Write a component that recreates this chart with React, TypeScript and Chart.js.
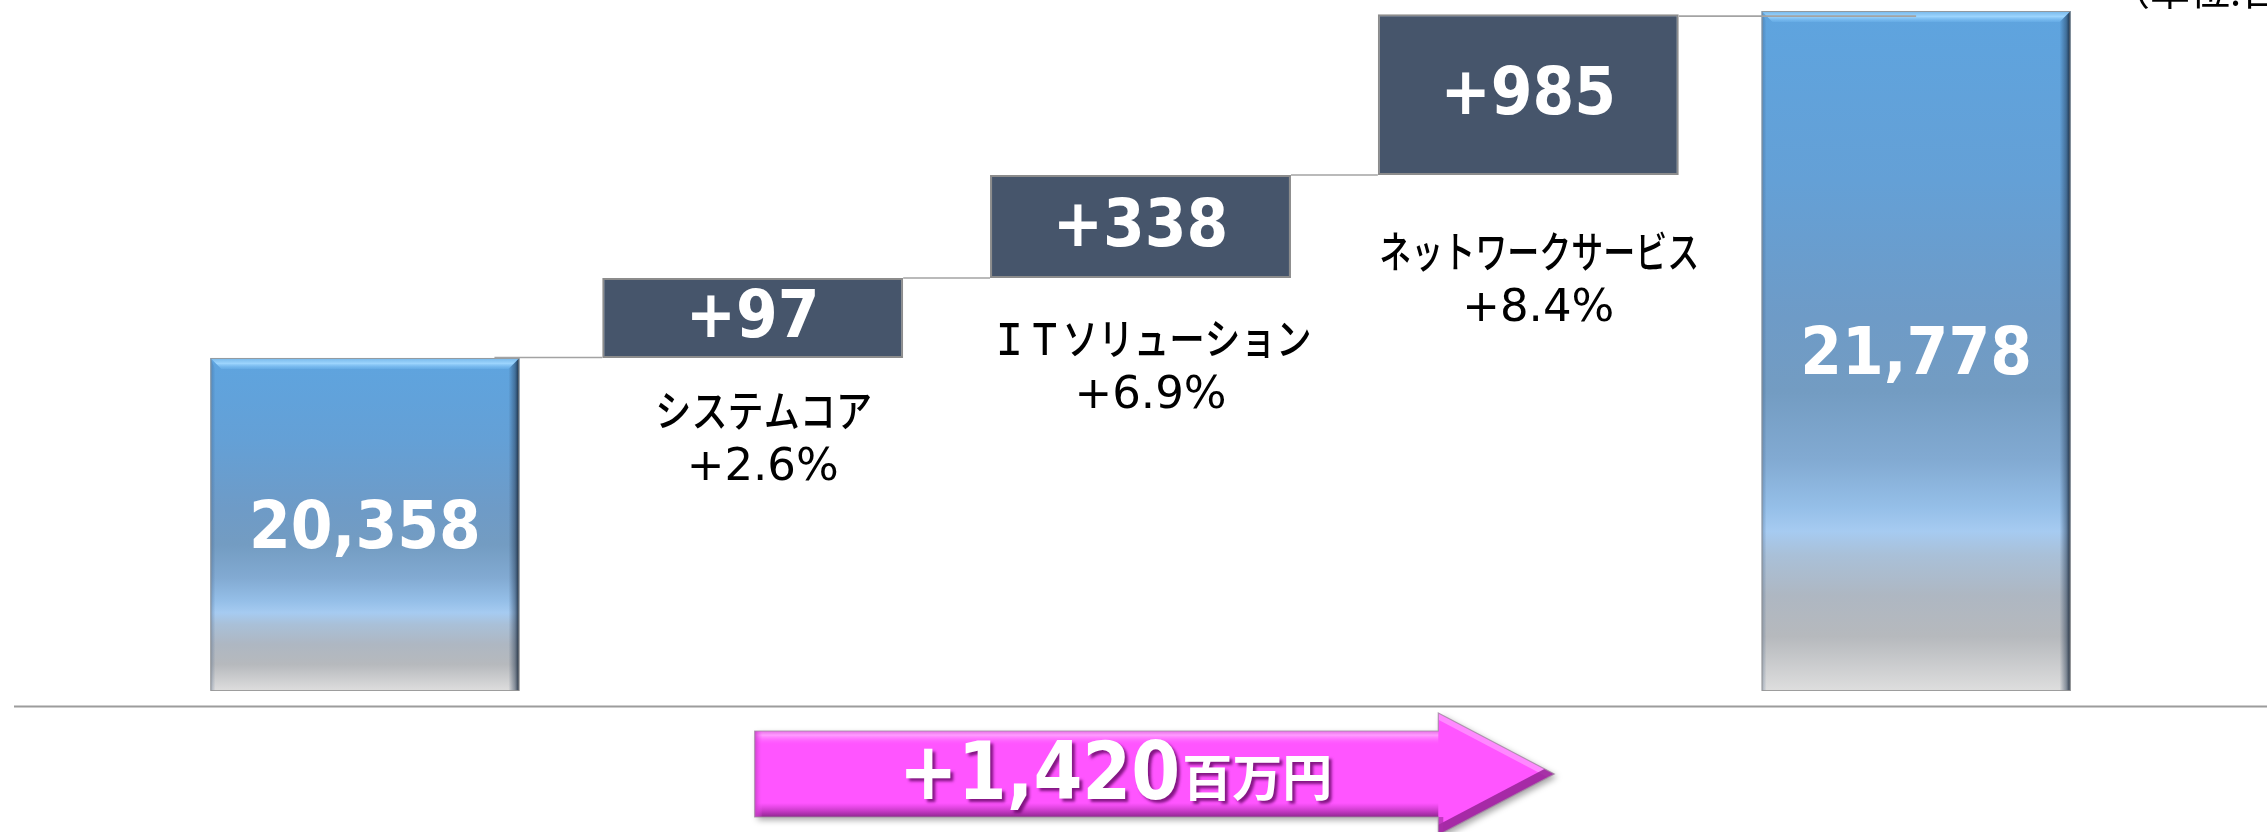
import React, { useEffect, useRef } from 'react';
import { Chart, registerables } from 'chart.js';

Chart.register(...registerables);

// ---- data (百万円) ----
const categories = ['前期', 'システムコア', 'ＩＴソリューション', 'ネットワークサービス', '当期'];
const totalValues = [20358, 21778];
const totalLabels = ['20,358', '21,778'];
const deltaValues = [97, 338, 985];
const deltaLabels = ['+97', '+338', '+985'];
const deltaGrowth = ['+2.6%', '+6.9%', '+8.4%'];
// step-box boundaries as drawn in the picture (value-axis units); the drawn boxes are not to scale
const stepLevels = [20358, 20685, 21107, 21765];
const axisMin = 18995;
const axisMax = 21823;
const totalChangeLabel = '+1,420';
const totalChangeUnit = '百万円';
const unitNote = '（単位:百万円）';

const JP = '"Noto Sans CJK JP"';
const NUM = '"DejaVu Sans"';

function drawText(
  ctx: CanvasRenderingContext2D,
  text: string,
  x: number,
  y: number,
  font: string,
  color: string,
  align: CanvasTextAlign,
  sx = 1,
  baseline: CanvasTextBaseline = 'middle',
  maxWidth?: number
) {
  ctx.save();
  ctx.font = font;
  ctx.fillStyle = color;
  ctx.textAlign = align;
  ctx.textBaseline = baseline;
  ctx.translate(x, y);
  ctx.scale(sx, 1);
  if (maxWidth) ctx.fillText(text, 0, 0, maxWidth / sx);
  else ctx.fillText(text, 0, 0);
  ctx.restore();
}

function totalGradient(c: any) {
  const chart = c.chart;
  const raw = c.raw;
  if (!chart.chartArea || !raw || !chart.scales || !chart.scales.y) return '#6a9dcc';
  const ys = chart.scales.y;
  const top = ys.getPixelForValue(raw[1]);
  const bot = ys.getPixelForValue(raw[0]);
  const g = chart.ctx.createLinearGradient(0, top, 0, bot);
  g.addColorStop(0, '#5ea4df');
  g.addColorStop(0.25, '#64a0d6');
  g.addColorStop(0.45, '#6e9bc7');
  g.addColorStop(0.56, '#739cc2');
  g.addColorStop(0.66, '#82aad2');
  g.addColorStop(0.73, '#95bfe8');
  g.addColorStop(0.765, '#a6cbf1');
  g.addColorStop(0.8, '#a9c0d8');
  g.addColorStop(0.86, '#aeb7c2');
  g.addColorStop(0.92, '#b6b9bd');
  g.addColorStop(1, '#dedede');
  return g;
}

function drawBevel(ctx: CanvasRenderingContext2D, l: number, r: number, t: number, b: number) {
  const bev = 11;
  ctx.save();
  ctx.beginPath();
  ctx.rect(l, t, r - l, b - t);
  ctx.clip();
  ctx.beginPath();
  ctx.moveTo(l, t);
  ctx.lineTo(r, t);
  ctx.lineTo(r - bev, t + bev);
  ctx.lineTo(l + bev, t + bev);
  ctx.closePath();
  const gt = ctx.createLinearGradient(0, t, 0, t + bev);
  gt.addColorStop(0, 'rgba(120,185,235,0.9)');
  gt.addColorStop(0.5, 'rgba(160,215,255,0.95)');
  gt.addColorStop(1, 'rgba(120,190,245,0.3)');
  ctx.fillStyle = gt;
  ctx.fill();
  ctx.beginPath();
  ctx.moveTo(r, t);
  ctx.lineTo(r, b);
  ctx.lineTo(r - bev, b);
  ctx.lineTo(r - bev, t + bev);
  ctx.closePath();
  const gr = ctx.createLinearGradient(r - bev, 0, r, 0);
  gr.addColorStop(0, 'rgba(30,50,80,0)');
  gr.addColorStop(0.6, 'rgba(30,50,75,0.45)');
  gr.addColorStop(1, 'rgba(15,28,45,0.95)');
  ctx.fillStyle = gr;
  ctx.fill();
  ctx.beginPath();
  ctx.moveTo(l, t);
  ctx.lineTo(l + 5, t + bev);
  ctx.lineTo(l + 5, b);
  ctx.lineTo(l, b);
  ctx.closePath();
  const gl = ctx.createLinearGradient(l, 0, l + 5, 0);
  gl.addColorStop(0, 'rgba(50,80,120,0.35)');
  gl.addColorStop(1, 'rgba(50,80,120,0)');
  ctx.fillStyle = gl;
  ctx.fill();
  ctx.restore();
  ctx.save();
  ctx.strokeStyle = 'rgba(150,150,150,0.9)';
  ctx.lineWidth = 1;
  ctx.strokeRect(l + 0.5, t + 0.5, r - l - 1, b - t - 1);
  ctx.restore();
}

function drawArrow(
  ctx: CanvasRenderingContext2D,
  x0: number,
  xs: number,
  xt: number,
  bt: number,
  bb: number,
  ht: number,
  hb: number
) {
  const ym = (bt + bb) / 2;
  const path = () => {
    ctx.beginPath();
    ctx.moveTo(x0, bt);
    ctx.lineTo(xs, bt);
    ctx.lineTo(xs, ht);
    ctx.lineTo(xt, ym);
    ctx.lineTo(xs, hb);
    ctx.lineTo(xs, bb);
    ctx.lineTo(x0, bb);
    ctx.closePath();
  };
  ctx.save();
  ctx.shadowColor = 'rgba(0,0,0,0.35)';
  ctx.shadowBlur = 6;
  ctx.shadowOffsetX = 3;
  ctx.shadowOffsetY = 3;
  path();
  ctx.fillStyle = '#ff55ff';
  ctx.fill();
  ctx.restore();

  ctx.save();
  path();
  ctx.clip();
  const gt = ctx.createLinearGradient(0, bt, 0, bt + 14);
  gt.addColorStop(0, 'rgba(230,110,230,1)');
  gt.addColorStop(0.3, 'rgba(255,160,255,0.95)');
  gt.addColorStop(1, 'rgba(255,90,255,0)');
  ctx.fillStyle = gt;
  ctx.fillRect(x0, bt, xs - x0, 14);
  const gb = ctx.createLinearGradient(0, bb - 14, 0, bb);
  gb.addColorStop(0, 'rgba(190,50,190,0)');
  gb.addColorStop(0.7, 'rgba(170,45,170,0.85)');
  gb.addColorStop(1, 'rgba(140,40,140,1)');
  ctx.fillStyle = gb;
  ctx.fillRect(x0, bb - 14, xs - x0, 14);
  const gl = ctx.createLinearGradient(x0, 0, x0 + 8, 0);
  gl.addColorStop(0, 'rgba(200,60,200,0.9)');
  gl.addColorStop(1, 'rgba(255,90,255,0)');
  ctx.fillStyle = gl;
  ctx.fillRect(x0, bt, 8, bb - bt);
  ctx.lineJoin = 'miter';
  ctx.beginPath();
  ctx.moveTo(xs, ht);
  ctx.lineTo(xt, ym);
  ctx.strokeStyle = 'rgba(255,150,255,0.8)';
  ctx.lineWidth = 12;
  ctx.stroke();
  ctx.beginPath();
  ctx.moveTo(xt, ym);
  ctx.lineTo(xs, hb);
  ctx.strokeStyle = 'rgba(150,35,150,0.85)';
  ctx.lineWidth = 18;
  ctx.stroke();
  ctx.beginPath();
  ctx.moveTo(xs, bb);
  ctx.lineTo(xs, hb);
  ctx.strokeStyle = 'rgba(170,45,170,0.7)';
  ctx.lineWidth = 10;
  ctx.stroke();
  ctx.restore();

  ctx.save();
  path();
  ctx.strokeStyle = 'rgba(160,140,160,0.8)';
  ctx.lineWidth = 1.2;
  ctx.stroke();
  ctx.restore();
}

const decorPlugin = {
  id: 'decor',
  afterDatasetsDraw(chart: any) {
    const ctx: CanvasRenderingContext2D = chart.ctx;
    const area = chart.chartArea;
    const xs = chart.scales.x;
    const totals = chart.getDatasetMeta(0).data;
    const steps = chart.getDatasetMeta(1).data;
    const geo = (el: any) => {
      const p = el.getProps(['x', 'y', 'base', 'width'], true);
      return { cx: p.x, l: p.x - p.width / 2, r: p.x + p.width / 2, t: Math.min(p.y, p.base), b: Math.max(p.y, p.base) };
    };
    const bar0 = geo(totals[0]);
    const bar4 = geo(totals[4]);
    const boxes = [1, 2, 3].map((i) => geo(steps[i]));

    drawBevel(ctx, bar0.l, bar0.r, bar0.t, bar0.b);
    drawBevel(ctx, bar4.l, bar4.r, bar4.t, bar4.b);

    ctx.save();
    ctx.strokeStyle = '#a3a3a3';
    ctx.lineWidth = 1.6;
    const seg = (x1: number, x2: number, y: number) => {
      ctx.beginPath();
      ctx.moveTo(x1, y);
      ctx.lineTo(x2, y);
      ctx.stroke();
    };
    seg(bar0.r - 25, boxes[0].l, boxes[0].b - 0.5);
    seg(boxes[0].r, boxes[1].l, boxes[1].b);
    seg(boxes[1].r, boxes[2].l, boxes[2].b);
    seg(boxes[2].r, bar4.cx, boxes[2].t + 2);
    ctx.restore();

    drawText(ctx, totalLabels[0], bar0.cx, (bar0.t + bar0.b) / 2 + 6, `bold 66px ${NUM}`, '#ffffff', 'center', 0.91);
    drawText(ctx, totalLabels[1], bar4.cx, (bar4.t + bar4.b) / 2 + 6, `bold 66px ${NUM}`, '#ffffff', 'center', 0.91);
    const gaps = [53, 61, 77];
    boxes.forEach((bx, i) => {
      drawText(ctx, deltaLabels[i], bx.cx, (bx.t + bx.b) / 2 + 2, `bold 66px ${NUM}`, '#ffffff', 'center', 0.91);
      const y1 = bx.b + gaps[i];
      drawText(ctx, categories[i + 1], bx.cx + 11, y1, `500 43px ${JP}`, '#000000', 'center', 0.84, 'middle', 320);
      drawText(ctx, deltaGrowth[i], bx.cx + 10, y1 + 57, `45px ${NUM}`, '#000000', 'center');
    });

    ctx.save();
    ctx.strokeStyle = '#9c9c9c';
    ctx.lineWidth = 2;
    ctx.beginPath();
    ctx.moveTo(14, area.bottom + 15.5);
    ctx.lineTo(chart.width, area.bottom + 15.5);
    ctx.stroke();
    ctx.restore();

    const ax0 = xs.getPixelForValue(1) + 2;
    const axt = xs.getPixelForValue(3) + 26;
    const axs = axt - 116;
    const base = area.bottom;
    drawArrow(ctx, ax0, axs, axt, base + 40, base + 126, base + 22, base + 144);

    ctx.save();
    ctx.font = `bold 80px ${NUM}`;
    const w1 = ctx.measureText(totalChangeLabel).width * 0.88;
    ctx.font = `bold 50px ${JP}`;
    const w2 = ctx.measureText(totalChangeUnit).width;
    ctx.restore();
    const tl = (ax0 + axs) / 2 + 18 - (w1 + w2) / 2;
    ctx.save();
    ctx.shadowColor = 'rgba(90,0,90,0.75)';
    ctx.shadowBlur = 3;
    ctx.shadowOffsetX = 3;
    ctx.shadowOffsetY = 3;
    drawText(ctx, totalChangeLabel, tl, base + 108, `bold 80px ${NUM}`, '#ffffff', 'left', 0.88, 'alphabetic');
    drawText(ctx, totalChangeUnit, tl + w1 + 2, base + 105, `bold 50px ${JP}`, '#ffffff', 'left', 1, 'alphabetic');
    ctx.restore();

    drawText(ctx, unitNote, 2110, 5, `40px ${JP}`, '#000000', 'left', 1, 'alphabetic');
  },
};

export default function App() {
  const ref = useRef<HTMLCanvasElement>(null);
  useEffect(() => {
    const canvas = ref.current;
    if (!canvas) return;
    const totalsData: any[] = categories.map(() => null);
    totalsData[0] = [axisMin, totalValues[0]];
    totalsData[4] = [axisMin, totalValues[1]];
    const stepsData: any[] = categories.map(() => null);
    deltaValues.forEach((_, i) => {
      stepsData[i + 1] = [stepLevels[i], stepLevels[i + 1]];
    });
    const chart = new Chart(canvas, {
      type: 'bar',
      data: {
        labels: categories,
        datasets: [
          {
            label: '合計',
            data: totalsData,
            backgroundColor: totalGradient as any,
            borderWidth: 0,
            borderSkipped: false,
            grouped: false,
            barPercentage: 0.797,
            categoryPercentage: 1,
          } as any,
          {
            label: '増減',
            data: stepsData,
            backgroundColor: '#46556b',
            borderColor: '#8c8c8c',
            borderWidth: 2,
            borderSkipped: false,
            grouped: false,
            barPercentage: 0.776,
            categoryPercentage: 1,
          } as any,
        ],
      },
      options: {
        responsive: false,
        animation: false,
        devicePixelRatio: 1,
        layout: { padding: { left: 171, right: 157, top: 0, bottom: 141 } },
        plugins: {
          legend: { display: false },
          tooltip: { enabled: false },
          title: { display: false },
        },
        scales: {
          x: { display: false, offset: true },
          y: { display: false, min: axisMin, max: axisMax },
        },
      },
      plugins: [decorPlugin],
    });
    return () => chart.destroy();
  }, []);
  return (
    <div
      style={{
        position: 'fixed',
        left: 0,
        top: 0,
        width: 2267,
        height: 832,
        background: '#ffffff',
        overflow: 'hidden',
      }}
    >
      <canvas ref={ref} width={2267} height={832} style={{ display: 'block', width: 2267, height: 832 }} />
    </div>
  );
}
